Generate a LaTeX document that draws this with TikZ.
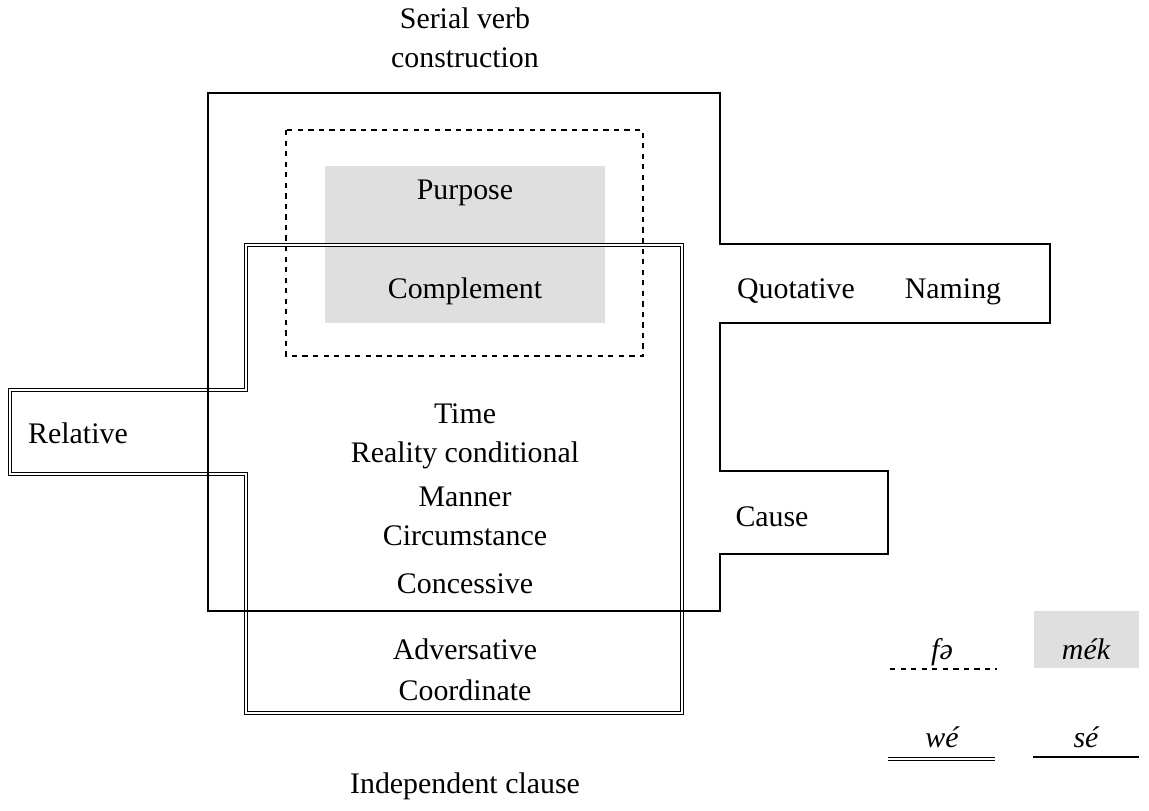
\documentclass[tikz,border=0pt]{standalone}
\usepackage{fontspec}
\setmainfont{Liberation Serif}
\usetikzlibrary{positioning, calc}

\begin{document}
\begin{tikzpicture}[
    x=0.02cm, y=-0.02cm,
    every node/.style={font=\fontsize{17}{20}\selectfont, inner sep=0pt,
        text height=12pt, text depth=3.5pt},
    svc/.style={draw=black, line width=1.05pt},
    fo/.style={draw=black, line width=0.95pt, dash pattern=on 3pt off 3pt},
    mek/.style={fill=gray!25},
    we/.style={draw=black, line width=0.8pt, double, double distance=1.1pt},
    gloss/.style={font=\fontsize{17}{20}\selectfont\itshape}
]
    \useasboundingbox (0,0) rectangle (1149,811);

    % mek: shaded box
    \fill[mek] (325,166) rectangle (605,323);

    % fo: dashed box
    \draw[fo] (286,130) rectangle (643,356);

    % we: double-lined region
    \draw[we] (246,245) -- (682,245) -- (682,713) -- (246,713) -- (246,474)
        -- (10,474) -- (10,390) -- (246,390) -- cycle;

    % se: serial verb construction
    \draw[svc] (208,93) -- (720,93) -- (720,244) -- (1050,244) -- (1050,323)
        -- (720,323) -- (720,471) -- (888,471) -- (888,554) -- (720,554)
        -- (720,611) -- (208,611) -- cycle;

    % Titles
    \node (svctitle) at (465,21) {Serial verb};
    \node (svctitle2) at (465,60) {construction};
    \node (indep) at (465,786) {Independent clause};

    % Clause types
    \node (purpose) at (465,192) {Purpose};
    \node (compl) at (465,291) {Complement};
    \node (quot) at (796,291) {Quotative};
    \node (naming) at (953,291) {Naming};
    \node (rel) at (78,436) {Relative};
    \node (time) at (465,416) {Time};
    \node (real) at (465,455) {Reality conditional};
    \node (manner) at (465,499) {Manner};
    \node (circ) at (465,538) {Circumstance};
    \node (conc) at (465,586) {Concessive};
    \node (cause) at (772,519) {Cause};
    \node (advers) at (465,652) {Adversative};
    \node (coord) at (465,693) {Coordinate};

    % Legend
    \fill[mek] (1034,611) rectangle (1139,668);
    \node[gloss] (fo) at (942,652) {fə};
    \node[gloss] (mek) at (1086,652) {mék};
    \node[gloss] (we) at (942,740) {wé};
    \node[gloss] (se) at (1086,740) {sé};
    \draw[fo] (890,669) -- (997,669);
    \draw[we] (888,759) -- (995,759);
    \draw[svc] (1033,757) -- (1139,757);

\end{tikzpicture}
\end{document}
